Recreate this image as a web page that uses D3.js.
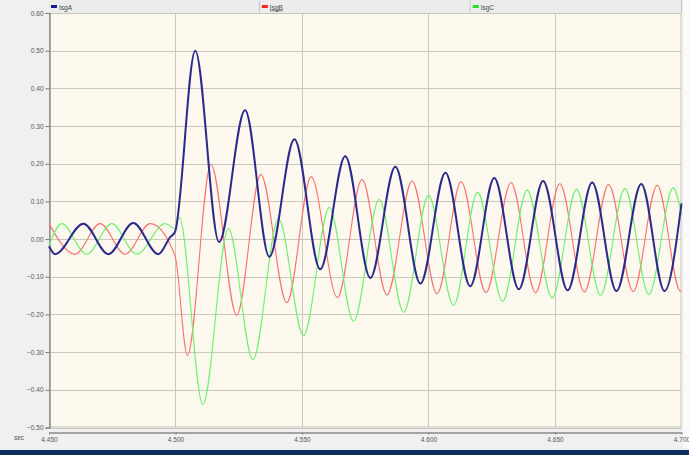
<!DOCTYPE html>
<html>
<head>
<meta charset="utf-8">
<script src="https://cdn.jsdelivr.net/npm/d3@7"></script>
<style>
  html, body { margin: 0; padding: 0; background: #f0f0f0; }
  svg { display: block; font-family: "Liberation Sans", Arial, sans-serif; }
</style>
</head>
<body>
<svg id="chart" width="689" height="455"></svg>
<script>
// Phase currents IsgA / IsgB / IsgC around the fault at t = 4.500 s
// Each array holds [time (s), current] at the waveform's extrema.
const seriesNames = ["IsgA", "IsgB", "IsgC"];
const seriesColors = ["#2a2a8c", "#ff6f6f", "#6ff06f"];

const isgA = [
  [4.4500, -0.019], [4.4524, -0.040], [4.4636, 0.041], [4.4735, -0.040],
  [4.4833, 0.043], [4.4932, -0.040], [4.4979, 0.005], [4.4998, 0.019],
  [4.5078, 0.500], [4.5172, -0.008], [4.5275, 0.342], [4.5371, -0.047],
  [4.5470, 0.265], [4.5572, -0.080], [4.5671, 0.220], [4.5770, -0.103],
  [4.5869, 0.192], [4.5968, -0.118], [4.6067, 0.176], [4.6165, -0.125],
  [4.6260, 0.162], [4.6357, -0.133], [4.6453, 0.154], [4.6550, -0.136],
  [4.6647, 0.150], [4.6743, -0.138], [4.6841, 0.146], [4.6933, -0.138],
  [4.7000, 0.095]
];

const isgB = [
  [4.4500, 0.041], [4.4603, -0.040], [4.4702, 0.041], [4.4801, -0.040],
  [4.4900, 0.041], [4.4998, -0.044], [4.5047, -0.309], [4.5140, 0.198],
  [4.5242, -0.202], [4.5337, 0.171], [4.5440, -0.169], [4.5536, 0.165],
  [4.5640, -0.155], [4.5737, 0.158], [4.5836, -0.148], [4.5935, 0.154],
  [4.6034, -0.145], [4.6129, 0.152], [4.6227, -0.142], [4.6326, 0.150],
  [4.6423, -0.142], [4.6519, 0.147], [4.6616, -0.140], [4.6712, 0.145],
  [4.6809, -0.139], [4.6904, 0.143], [4.6996, -0.138], [4.7000, -0.137]
];

const isgC = [
  [4.4500, -0.017], [4.4550, 0.041], [4.4649, -0.040], [4.4748, 0.041],
  [4.4847, -0.040], [4.4959, 0.041], [4.4998, 0.028], [4.5015, 0.058],
  [4.5108, -0.439], [4.5209, 0.028], [4.5306, -0.320], [4.5407, 0.054],
  [4.5506, -0.256], [4.5608, 0.084], [4.5704, -0.218], [4.5805, 0.105],
  [4.5902, -0.194], [4.6000, 0.116], [4.6099, -0.176], [4.6194, 0.124],
  [4.6293, -0.165], [4.6390, 0.130], [4.6489, -0.156], [4.6585, 0.132],
  [4.6680, -0.149], [4.6776, 0.134], [4.6871, -0.147], [4.6967, 0.136],
  [4.7000, 0.065]
];

const yTicks = [0.60, 0.50, 0.40, 0.30, 0.20, 0.10, 0.00, -0.10, -0.20, -0.30, -0.40, -0.50];
const xTicks = [4.450, 4.500, 4.550, 4.600, 4.650, 4.700];

const svg = d3.select("#chart");
const W = 689, H = 455;
const plot = { left: 49, right: 681.5, top: 13, bottom: 427.5 };

const x = d3.scaleLinear().domain([4.45, 4.70]).range([plot.left, plot.right]);
const y = d3.scaleLinear().domain([-0.5, 0.6]).range([plot.bottom, plot.top]);

// page background
svg.append("rect").attr("width", W).attr("height", H).attr("fill", "#f0f0f0");
svg.append("rect").attr("x", 683).attr("width", 6).attr("height", 448).attr("fill", "#fafafa");

// legend strip
svg.append("rect").attr("x", plot.left).attr("y", 0)
  .attr("width", plot.right - plot.left).attr("height", plot.top)
  .attr("fill", "#ececec");
const cellW = (plot.right - plot.left) / 3;
const legend = svg.append("g");
seriesNames.forEach((name, i) => {
  const lx = plot.left + i * cellW;
  if (i > 0) {
    legend.append("line").attr("x1", lx - 0.5).attr("x2", lx - 0.5)
      .attr("y1", 1).attr("y2", plot.top).attr("stroke", "#c4c4c4");
  }
  legend.append("rect").attr("x", lx + 2).attr("y", 5).attr("width", 6).attr("height", 3)
    .attr("fill", i === 0 ? "#1a1a90" : (i === 1 ? "#ff2020" : "#30e030"));
  legend.append("text").attr("x", lx + 10).attr("y", 9.5)
    .attr("font-size", 6.5).attr("fill", "#444")
    .attr("text-decoration", i === 1 ? "underline" : null)
    .text(name);
});
legend.append("line").attr("x1", plot.right).attr("x2", plot.right)
  .attr("y1", 0).attr("y2", plot.top).attr("stroke", "#c4c4c4");

// plot background
svg.append("rect").attr("x", plot.left).attr("y", plot.top)
  .attr("width", plot.right - plot.left).attr("height", plot.bottom - plot.top)
  .attr("fill", "#fdf9ee");

// grid
const grid = svg.append("g").attr("stroke", "#cbc8c0").attr("stroke-width", 1);
yTicks.forEach(v => {
  grid.append("line").attr("x1", plot.left).attr("x2", plot.right)
    .attr("y1", Math.round(y(v)) + 0.5).attr("y2", Math.round(y(v)) + 0.5);
});
xTicks.slice(1, -1).forEach(v => {
  grid.append("line").attr("y1", plot.top).attr("y2", plot.bottom)
    .attr("x1", Math.round(x(v)) + 0.5).attr("x2", Math.round(x(v)) + 0.5);
});

// plot frame
svg.append("rect").attr("x", plot.left + 0.5).attr("y", plot.top + 0.5)
  .attr("width", plot.right - plot.left - 1).attr("height", plot.bottom - plot.top - 1)
  .attr("fill", "none").attr("stroke", "#c9c6be");

// y axis
const yAxis = svg.append("g").attr("transform", `translate(${plot.left + 0.5},0)`)
  .call(d3.axisLeft(y).tickValues(yTicks).tickFormat(d3.format(".2f")).tickSize(4).tickPadding(2));
yAxis.select(".domain").attr("stroke", "#777").attr("stroke-width", 1.2);
yAxis.selectAll(".tick line").attr("stroke", "#777");
yAxis.selectAll(".tick text").attr("font-size", 6.5).attr("fill", "#555")
  .attr("font-family", "Liberation Sans, Arial, sans-serif");

// x axis
const xAxis = svg.append("g").attr("transform", "translate(0,432.5)")
  .call(d3.axisBottom(x).tickValues(xTicks).tickFormat(d3.format(".3f")).tickSize(2).tickPadding(3).tickSizeOuter(0));
xAxis.select(".domain").attr("stroke", "#8a8a8a").attr("stroke-width", 1.5);
xAxis.selectAll(".tick line").attr("stroke", "#777");
xAxis.selectAll(".tick text").attr("font-size", 6.5).attr("fill", "#555")
  .attr("font-family", "Liberation Sans, Arial, sans-serif");
svg.append("text").attr("x", 14).attr("y", 440).attr("font-size", 6.5)
  .attr("fill", "#555").text("sec");

// waveforms
const line = d3.line().x(d => x(d[0])).y(d => y(d[1])).curve(d3.curveMonotoneX);
const waves = svg.append("g");
[[isgB, 1], [isgC, 2], [isgA, 0]].forEach(([data, i]) => {
  waves.append("path").datum(data)
    .attr("d", line)
    .attr("fill", "none")
    .attr("stroke", seriesColors[i])
    .attr("stroke-width", i === 0 ? 2 : 1.1)
    .attr("stroke-linejoin", "round");
});

// bottom bar
svg.append("rect").attr("x", 0).attr("y", 450).attr("width", W).attr("height", 5)
  .attr("fill", "#0f2f62");
</script>
</body>
</html>
